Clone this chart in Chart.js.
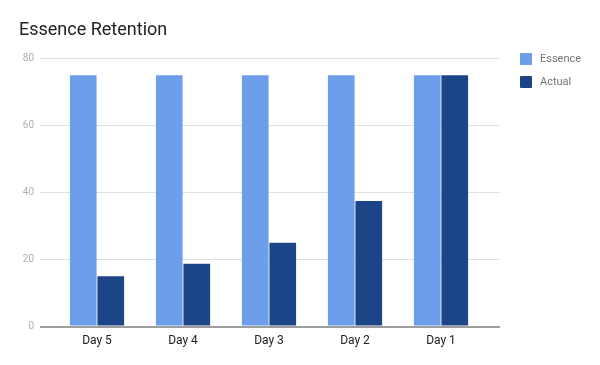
<!DOCTYPE html>
<html>
<head>
<meta charset="utf-8">
<script src="https://cdn.jsdelivr.net/npm/chart.js@4/dist/chart.umd.min.js"></script>
<style>
    body { margin: 0; background: #fff; }
    #wrap { position: relative; width: 600px; height: 365px; }
    #legend-div { position: absolute; left: 520px; top: 53px; font: 11px Roboto, sans-serif; color: #757575; }
    #legend-div ul { list-style: none; margin: 0; padding: 0; }
    #legend-div li { height: 12px; line-height: 12px; margin-bottom: 11px; white-space: nowrap; }
    #legend-div li span { display: inline-block; width: 12px; height: 12px; margin-right: 8px; vertical-align: top; border-radius: 1px; }
</style>
</head>
<body>
<div id="wrap">
    <canvas id="barChartCanvas" width="600" height="365"></canvas>
    <div id="legend-div"></div>
</div>
<script>
let days = ['Day 5', 'Day 4', 'Day 3', 'Day 2', 'Day 1'];
let essence = [75, 75, 75, 75, 75];
let actual = [15, 18.75, 25, 37.5, 75];
let yTicks = [0, 20, 40, 60, 80];

// same pixel snapping chart.js uses for grid lines
let snap = function (px, w) {
    return Math.round(px - w / 2) + w / 2;
};

// google charts draws the gridlines a bit past the plot on the right
let extendGrid = {
    id: 'extendGrid',
    beforeDatasetsDraw: function (chart) {
        let ctx = chart.ctx;
        let area = chart.chartArea;
        let y = chart.scales.y;
        ctx.save();
        y.ticks.forEach(function (t) {
            let w = t.value === 0 ? 2 : 1;
            let py = snap(y.getPixelForValue(t.value), w);
            ctx.beginPath();
            ctx.strokeStyle = t.value === 0 ? '#9e9e9e' : '#e0e0e0';
            ctx.lineWidth = w;
            ctx.moveTo(area.right, py);
            ctx.lineTo(area.right + 16, py);
            ctx.stroke();
        });
        ctx.restore();
    }
};

let barChartDraw = function () {
    let ctx = document.getElementById('barChartCanvas').getContext('2d');

    window.barChart = new Chart(ctx, {
        type: 'bar',
        data: {
            labels: days,
            datasets: [
                { label: 'Essence', data: essence, backgroundColor: '#6d9eeb' },
                { label: 'Actual', data: actual, backgroundColor: '#1c4587' }
            ]
        },
        options: {
            responsive: false,
            animation: false,
            layout: { padding: { left: 19, right: 116, top: 0, bottom: 10 } },
            datasets: { bar: { categoryPercentage: 0.64, barPercentage: 0.97 } },
            plugins: {
                legend: { display: false },
                tooltip: { enabled: false },
                title: {
                    display: true,
                    text: 'Essence Retention',
                    align: 'start',
                    color: '#222',
                    font: { family: 'Roboto', size: 18, weight: 'normal' },
                    padding: { top: 20, bottom: 17 }
                }
            },
            scales: {
                x: {
                    grid: { display: false, drawTicks: false },
                    border: { display: false },
                    ticks: { color: '#222', padding: 7, font: { family: 'Roboto', size: 12 } }
                },
                y: {
                    min: 0,
                    max: 80,
                    afterFit: function (scale) { scale.width = 35; },
                    afterBuildTicks: function (scale) {
                        scale.ticks = yTicks.map(function (v) { return { value: v }; });
                    },
                    border: { display: false },
                    grid: {
                        tickLength: 14,
                        color: function (c) { return c.tick && c.tick.value === 0 ? '#9e9e9e' : '#e0e0e0'; },
                        lineWidth: function (c) { return c.tick && c.tick.value === 0 ? 2 : 1; }
                    },
                    ticks: { color: '#b0b0b0', padding: 6, font: { family: 'Roboto', size: 10 } }
                }
            }
        },
        plugins: [extendGrid]
    });
};

let customLegend = function (chart) {
    let ul = document.createElement('ul');
    chart.data.datasets.forEach(function (ds) {
        ul.innerHTML += `<li><span style="background-color:${ds.backgroundColor}"></span>${ds.label}</li>`;
    });
    document.getElementById('legend-div').appendChild(ul);
};

barChartDraw();
customLegend(window.barChart);
</script>
</body>
</html>
